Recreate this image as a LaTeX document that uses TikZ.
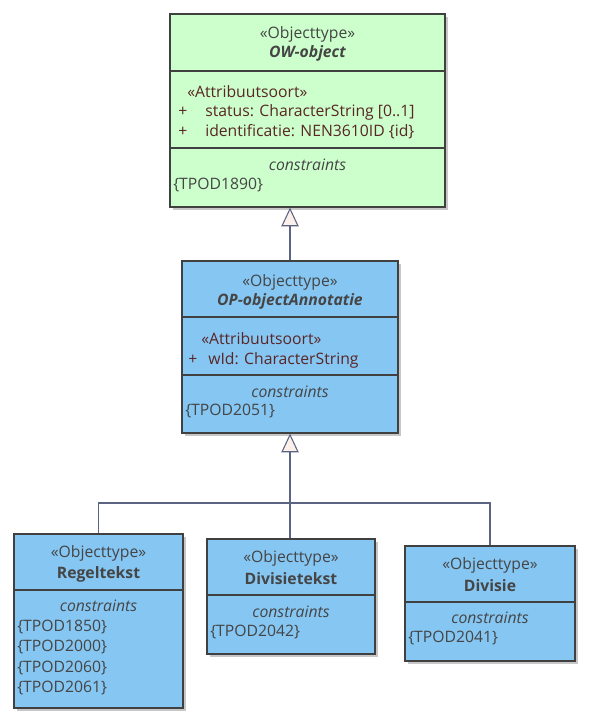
\documentclass[tikz,border=0pt]{standalone}
\usepackage{fontspec}
\setmainfont{Open Sans}
\usetikzlibrary{arrows.meta,shadows,fit}
\definecolor{owfill}{HTML}{CCFFCC}
\definecolor{opfill}{HTML}{85C6F2}
\definecolor{boxline}{HTML}{404040}
\definecolor{txtgray}{HTML}{454545}
\definecolor{attrcol}{HTML}{5A2626}
\definecolor{linkcol}{HTML}{5C6483}
\definecolor{tipfill}{HTML}{FCF0EA}

\tikzset{
  umlbox/.style={draw=boxline,line width=0.95pt,inner sep=0pt,
    drop shadow={shadow xshift=2.6pt,shadow yshift=-2.6pt,fill=black!22,opacity=1}},
  sep/.style={draw=boxline,line width=0.95pt},
  stereo/.style={text=txtgray,inner sep=0pt,font=\fontsize{11.8}{14}\selectfont},
  clsname/.style={text=txtgray,inner sep=0pt,font=\fontsize{11.8}{14}\selectfont\bfseries},
  attr/.style={text=attrcol,inner sep=0pt,anchor=west,font=\fontsize{11.8}{14}\selectfont},
  cons/.style={text=txtgray,inner sep=0pt,anchor=west,font=\fontsize{11.8}{14}\selectfont},
  link/.style={draw=linkcol,line width=0.8pt},
  genarrow/.style={-{Triangle[fill=tipfill,length=14pt,width=13pt,line width=0.8pt]}}
}

\begin{document}
\begin{tikzpicture}[x=0.75pt,y=-0.75pt]
  \useasboundingbox (0,0) rectangle (589,727);

  % OW-object
  \node[umlbox,fill=owfill,fit={(170,14) (445,207)}] (ow) {};
  \draw[sep] (ow.west |- 0,71) -- (ow.east |- 0,71);
  \draw[sep] (ow.west |- 0,148) -- (ow.east |- 0,148);
  \node[stereo] (owst) at (ow.north |- 0,34) {«Objecttype»};
  \node[clsname] (owname) at (ow.north |- 0,53) {\itshape OW-object};
  \node[attr] (owas) at (187,92) {«Attribuutsoort»};
  \node[attr] (owp1) at (178,112) {+};
  \node[attr] (owa1) at (205,112) {status: CharacterString [0..1]};
  \node[attr] (owp2) at (178,132) {+};
  \node[attr] (owa2) at (205,132) {identificatie: NEN3610ID \{id\}};
  \node[stereo] (owct) at (ow.north |- 0,165) {\itshape constraints};
  \node[cons] (owc1) at (173,185) {\{TPOD1890\}};

  % OP-objectAnnotatie
  \node[umlbox,fill=opfill,fit={(182,261) (398,433)}] (op) {};
  \draw[sep] (op.west |- 0,317) -- (op.east |- 0,317);
  \draw[sep] (op.west |- 0,375) -- (op.east |- 0,375);
  \node[stereo] (opst) at (op.north |- 0,282) {«Objecttype»};
  \node[clsname] (opname) at (op.north |- 0,301) {\itshape OP-objectAnnotatie};
  \node[attr] (opas) at (201,339) {«Attribuutsoort»};
  \node[attr] (opp1) at (188,360) {+};
  \node[attr] (opa1) at (208,360) {wId: CharacterString};
  \node[stereo] (opct) at (op.north |- 0,392) {\itshape constraints};
  \node[cons] (opc1) at (185,411) {\{TPOD2051\}};

  % Regeltekst
  \node[umlbox,fill=opfill,fit={(14,534) (183,708)}] (regel) {};
  \draw[sep] (regel.west |- 0,590) -- (regel.east |- 0,590);
  \node[stereo] at (regel.north |- 0,553) {«Objecttype»};
  \node[clsname] at (regel.north |- 0,574) {Regeltekst};
  \node[stereo] at (regel.north |- 0,606) {\itshape constraints};
  \foreach \t [count=\i from 0] in {1850,2000,2060,2061}
    \node[cons] at (17,627+20.3*\i) {\{TPOD\t\}};

  % Divisietekst
  \node[umlbox,fill=opfill,fit={(207,539) (375,654)}] (divtekst) {};
  \draw[sep] (divtekst.west |- 0,595) -- (divtekst.east |- 0,595);
  \node[stereo] at (divtekst.north |- 0,558) {«Objecttype»};
  \node[clsname] at (divtekst.north |- 0,579) {Divisietekst};
  \node[stereo] at (divtekst.north |- 0,612) {\itshape constraints};
  \node[cons] at (210,632) {\{TPOD2042\}};

  % Divisie
  \node[umlbox,fill=opfill,fit={(405,546) (575,661)}] (divisie) {};
  \draw[sep] (divisie.west |- 0,602) -- (divisie.east |- 0,602);
  \node[stereo] at (divisie.north |- 0,565) {«Objecttype»};
  \node[clsname] at (divisie.north |- 0,586) {Divisie};
  \node[stereo] at (divisie.north |- 0,618) {\itshape constraints};
  \node[cons] at (408,638) {\{TPOD2041\}};

  % generalisaties
  \draw[link,genarrow] (op.north) -- (op.north |- ow.south);
  \coordinate (fork) at (op.south |- 0,503);
  \draw[link] (regel.north) |- (fork);
  \draw[link] (divisie.north) |- (fork);
  \draw[link] (divtekst.north -| fork) -- (fork);
  \draw[link,genarrow] (fork) -- (op.south);
\end{tikzpicture}
\end{document}
